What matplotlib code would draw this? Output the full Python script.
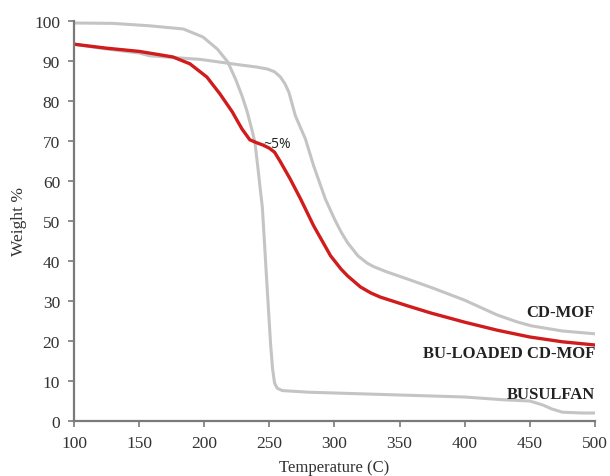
import matplotlib.pyplot as plt

# TGA curves: temperature (C) vs weight %
cdmof_t = [100, 125, 150, 158, 175, 197, 228, 240, 248.5, 254, 258.5, 262, 265,
           270, 277.7, 284, 293, 300, 305, 310, 318, 325, 330, 340, 356, 375,
           400, 425, 440, 451, 475, 500]
cdmof_w = [94.2, 93.0, 92.0, 91.3, 90.9, 90.4, 89.0, 88.5, 88.0, 87.3, 86.0, 84.3,
           82.2, 76.3, 70.5, 63.8, 55.5, 50.5, 47.3, 44.6, 41.3, 39.5, 38.6, 37.3,
           35.5, 33.3, 30.2, 26.5, 24.8, 23.8, 22.5, 21.8]

bu_t = [100, 130, 158, 184, 199, 210, 218, 224, 229, 233, 237, 239, 241.5, 243,
        244.6, 246, 248, 249.5, 251, 252.5, 254, 256, 260, 280, 300, 350, 400,
        430, 450, 460, 467, 475, 490, 500]
bu_w = [99.5, 99.4, 98.8, 98.0, 96.0, 93.0, 89.8, 85.5, 81.3, 77.3, 72.3, 69.5,
        62.5, 58.0, 53.5, 46.0, 35.0, 27.0, 19.0, 13.0, 9.5, 8.2, 7.6, 7.2, 7.0,
        6.5, 6.0, 5.3, 5.0, 4.0, 3.0, 2.2, 2.0, 2.0]

loaded_t = [100, 125, 150, 165, 176, 189, 202, 212, 221.5, 229, 235, 240, 245,
            250, 254, 258.5, 266, 274, 284, 297, 305, 310, 320, 328, 335, 356,
            374, 400, 425, 450, 475, 500]
loaded_w = [94.2, 93.2, 92.4, 91.6, 91.0, 89.3, 86.0, 81.8, 77.3, 73.0, 70.3, 69.6,
            69.0, 68.2, 67.2, 64.8, 60.5, 55.5, 48.8, 41.3, 38.0, 36.3, 33.5, 32.0,
            31.0, 28.8, 27.0, 24.7, 22.7, 21.0, 19.8, 19.0]

x_ticks = [100, 150, 200, 250, 300, 350, 400, 450, 500]
y_ticks = [0, 10, 20, 30, 40, 50, 60, 70, 80, 90, 100]

serif = ['Liberation Serif', 'DejaVu Serif']

fig = plt.figure(figsize=(6.1, 4.77), dpi=100)
ax = fig.add_axes([0.1213, 0.1153, 0.854, 0.8386])

grey = '#c4c4c4'
ax.plot(cdmof_t, cdmof_w, color=grey, lw=2.2, solid_capstyle='round', solid_joinstyle='round')
ax.plot(bu_t, bu_w, color=grey, lw=2.2, solid_capstyle='round', solid_joinstyle='round')
ax.plot(loaded_t, loaded_w, color='#d01c1c', lw=2.4, solid_capstyle='round',
        solid_joinstyle='round')

ax.set_xlim(100, 500)
ax.set_ylim(0, 100)
ax.set_xticks(x_ticks)
ax.set_yticks(y_ticks)

for s in ['top', 'right']:
    ax.spines[s].set_visible(False)
for s in ['left', 'bottom']:
    ax.spines[s].set_color('#7a7a7a')
    ax.spines[s].set_linewidth(1.6)
ax.tick_params(direction='out', length=4, width=1.2, color='#7a7a7a',
               labelsize=12.5, pad=6)
for lab in ax.get_xticklabels() + ax.get_yticklabels():
    lab.set_family(serif)
    lab.set_color('#333333')

ax.set_xlabel('Temperature (C)', family=serif, fontsize=12, color='#333333', labelpad=6)
ax.set_ylabel('Weight %', family=serif, fontsize=12.5, color='#333333', labelpad=5)

lbl = dict(family=serif, fontsize=12, fontweight='bold', color='#222222', ha='right', va='center')
ax.text(500, 27.2, 'CD-MOF', **lbl)
ax.text(500, 17.0, 'BU-LOADED CD-MOF', **lbl)
ax.text(500, 6.8, 'BUSULFAN', **lbl)

ax.text(245.4, 69.3, '~5%', family=['Open Sans', 'DejaVu Sans'], fontsize=10,
        color='#222222', ha='left', va='center')

fig.savefig('out.png', dpi=100)
